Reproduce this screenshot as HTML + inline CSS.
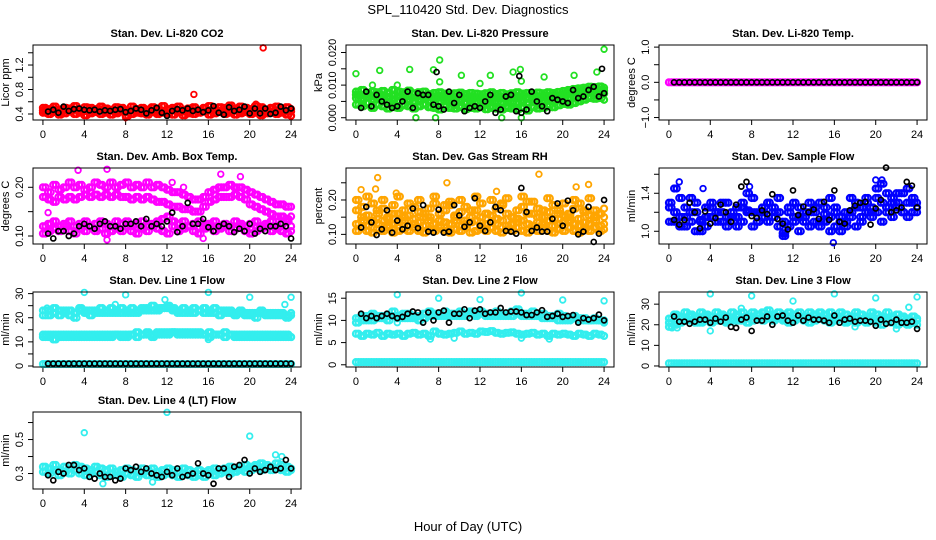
<!DOCTYPE html>
<html><head><meta charset="utf-8">
<style>
html,body{margin:0;padding:0;background:#fff;}
svg{display:block;font-family:"Liberation Sans",Arial,sans-serif;}
</style></head>
<body>
<svg id="chart" width="936" height="540" viewBox="0 0 936 540">
<text x="468" y="14" text-anchor="middle" font-size="13">SPL_110420  Std. Dev. Diagnostics</text>
<text x="468" y="531" text-anchor="middle" font-size="13">Hour of Day (UTC)</text>
</svg>
<script>
// ---------- data ----------
const hourTicks=[0,4,8,12,16,20,24];
// CO2
const co2RedA=[0.50,0.48,0.52,0.47,0.50,0.49,0.53,0.46,0.51,0.50,0.48,0.52,0.49,0.47,0.51,0.50,0.46,0.52,0.48,0.50,0.47,0.51,0.49,0.53,0.48,0.50,0.52,0.47,0.49,0.51,0.46,0.50,0.53,0.48,0.51,0.50,0.54,0.49,0.52,0.50,0.48,0.53,0.51,0.47,0.50,0.52,0.49,0.51,0.48];
const co2RedB=[0.42,0.40,0.43,0.39,0.41,0.44,0.40,0.42,0.38,0.41,0.43,0.40,0.42,0.39,0.41,0.44,0.37,0.40,0.42,0.41,0.39,0.43,0.40,0.42,0.41,0.39,0.43,0.38,0.41,0.40,0.42,0.44,0.39,0.41,0.43,0.40,0.42,0.39,0.41,0.43,0.40,0.42,0.38,0.41,0.43,0.40,0.42,0.39,0.37];
const co2RedC=[0.46,0.45,0.47,0.44,0.46,0.45,0.47,0.44,0.45,0.46,0.44,0.47,0.45,0.46,0.44,0.47,0.45,0.46,0.44,0.45,0.47,0.46,0.44,0.45,0.47,0.46,0.45,0.44,0.47,0.46,0.45,0.44,0.46,0.47,0.45,0.44,0.46,0.47,0.45,0.46,0.44,0.47,0.46,0.45,0.44,0.46,0.47,0.45,0.44];
const co2Black=[0.44,0.47,0.42,0.52,0.45,0.48,0.49,0.47,0.46,0.47,0.44,0.46,0.45,0.47,0.48,0.43,0.45,0.49,0.47,0.41,0.46,0.50,0.42,0.37,0.45,0.48,0.46,0.49,0.45,0.47,0.43,0.46,0.53,0.42,0.39,0.51,0.45,0.47,0.52,0.41,0.49,0.41,0.49,0.40,0.42,0.52,0.46,0.49];
const co2OutX=[14.6,21.3,8.0,20.6];
const co2OutY=[0.72,1.48,0.34,0.56];
// Pressure
const prGA=[0.008,0.0085,0.0075,0.008,0.0078,0.0082,0.0076,0.0085,0.008,0.0078,0.0083,0.0075,0.0078,0.008,0.0072,0.0076,0.0078,0.0074,0.0072,0.0075,0.0077,0.0073,0.0076,0.0074,0.0072,0.0075,0.0078,0.0073,0.0076,0.0072,0.0075,0.0078,0.0074,0.0076,0.0073,0.0077,0.0075,0.0078,0.0076,0.0079,0.0082,0.0085,0.0088,0.009,0.0092,0.0095,0.0094,0.0096,0.0092];
const prGB=[0.004,0.0035,0.0045,0.003,0.004,0.0035,0.0028,0.0032,0.003,0.0038,0.0035,0.0028,0.0035,0.004,0.0032,0.003,0.0025,0.0035,0.003,0.0028,0.0032,0.0026,0.003,0.0028,0.0032,0.0026,0.003,0.0028,0.0025,0.003,0.0028,0.0025,0.003,0.0022,0.0032,0.0028,0.003,0.0035,0.0032,0.0038,0.0042,0.004,0.0045,0.005,0.0055,0.006,0.0058,0.006,0.0055];
const prGC=[0.006,0.0058,0.0062,0.0055,0.006,0.0057,0.005,0.0055,0.0052,0.006,0.0055,0.005,0.0055,0.006,0.0052,0.0055,0.005,0.0054,0.0052,0.005,0.0055,0.0048,0.0052,0.005,0.0053,0.0048,0.0052,0.005,0.0048,0.0052,0.005,0.0048,0.0052,0.0046,0.0053,0.005,0.0052,0.0056,0.0054,0.0058,0.0062,0.0062,0.0066,0.007,0.0074,0.0078,0.0076,0.0078,0.0074];
const prGD=[0.007,0.0068,0.0072,0.0065,0.007,0.0066,0.0064,0.0068,0.0066,0.007,0.0066,0.0062,0.0066,0.0068,0.0062,0.0064,0.0062,0.0065,0.0062,0.0062,0.0066,0.006,0.0064,0.0062,0.0063,0.006,0.0064,0.0062,0.006,0.0063,0.0062,0.006,0.0064,0.0058,0.0064,0.0062,0.0064,0.0067,0.0065,0.0068,0.0072,0.0074,0.0077,0.008,0.0083,0.0086,0.0085,0.0087,0.0083];
const prBlack=[0.003,0.008,0.0035,0.007,0.005,0.004,0.003,0.0035,0.005,0.008,0.003,0.0075,0.007,0.007,0.004,0.0035,0.0025,0.008,0.0045,0.007,0.002,0.003,0.0035,0.003,0.005,0.007,0.0015,0.0025,0.0065,0.007,0.002,0.0015,0.0025,0.008,0.005,0.0035,0.002,0.006,0.0055,0.005,0.0045,0.0085,0.006,0.0065,0.0085,0.0095,0.0065,0.0075];
const prOutX=[0,1.6,2.3,4,5.2,7.5,8.1,8.1,10.2,12,13,15.2,15.9,16,18.2,21.1,23.3,24,5.8,7.7,14.1,16];
const prOutY=[0.0135,0.010,0.0145,0.010,0.0148,0.0147,0.0177,0.011,0.013,0.0105,0.013,0.014,0.0148,0.0112,0.0125,0.013,0.014,0.021,0.0,0.0,0.0,0.0];
const prBlkOutX=[7.8,15.8,23.8];
const prBlkOutY=[0.014,0.0128,0.015];
// Li-820 temp
const tmpMag=[0,0,0,0,0,0,0,0,0,0,0,0,0,0,0,0,0,0,0,0,0,0,0,0,0,0,0,0,0,0,0,0,0,0,0,0,0,0,0,0,0,0,0,0,0,0,0,0,0];
const tmpBlack=[0,0,0,0,0,0,0,0,0,0,0,0,0,0,0,0,0,0,0,0,0,0,0,0,0,0,0,0,0,0,0,0,0,0,0,0,0,0,0,0,0,0,0,0,0,0,0,0];
// Amb box temp
const ambA=[0.20,0.19,0.205,0.195,0.20,0.21,0.2,0.205,0.195,0.2,0.21,0.205,0.2,0.21,0.2,0.205,0.21,0.2,0.205,0.2,0.21,0.2,0.205,0.2,0.195,0.19,0.19,0.185,0.18,0.175,0.175,0.18,0.19,0.195,0.2,0.2,0.205,0.2,0.2,0.195,0.19,0.185,0.18,0.175,0.17,0.165,0.165,0.16,0.16];
const ambB=[0.18,0.175,0.17,0.18,0.175,0.18,0.175,0.18,0.185,0.18,0.185,0.18,0.185,0.18,0.185,0.18,0.18,0.175,0.18,0.175,0.18,0.175,0.17,0.17,0.165,0.16,0.16,0.155,0.155,0.15,0.15,0.16,0.17,0.175,0.18,0.18,0.18,0.185,0.18,0.175,0.165,0.16,0.155,0.15,0.145,0.14,0.14,0.135,0.14];
const ambC=[0.105,0.11,0.115,0.11,0.12,0.11,0.105,0.115,0.11,0.12,0.11,0.115,0.105,0.11,0.115,0.11,0.12,0.11,0.105,0.115,0.11,0.12,0.115,0.11,0.105,0.12,0.11,0.115,0.12,0.11,0.105,0.115,0.12,0.11,0.115,0.12,0.11,0.115,0.12,0.11,0.105,0.11,0.115,0.12,0.11,0.115,0.11,0.105,0.11];
const ambD=[0.12,0.125,0.13,0.12,0.125,0.13,0.12,0.125,0.13,0.12,0.125,0.13,0.125,0.12,0.13,0.125,0.13,0.12,0.125,0.13,0.12,0.125,0.13,0.135,0.14,0.13,0.125,0.13,0.12,0.125,0.13,0.12,0.125,0.13,0.12,0.125,0.12,0.13,0.125,0.12,0.125,0.13,0.12,0.125,0.13,0.12,0.125,0.13,0.12];
const ambBlack=[0.105,0.095,0.11,0.11,0.10,0.105,0.12,0.125,0.12,0.115,0.125,0.13,0.12,0.12,0.115,0.125,0.125,0.13,0.12,0.135,0.12,0.125,0.12,0.13,0.148,0.108,0.12,0.168,0.125,0.125,0.135,0.118,0.11,0.12,0.125,0.12,0.108,0.115,0.11,0.125,0.105,0.115,0.11,0.12,0.12,0.125,0.12,0.095];
const ambOutX=[3.4,6.2,17.2,19.1,0.5,6.2,15.5,12.5,13.6];
const ambOutY=[0.235,0.237,0.227,0.222,0.148,0.092,0.095,0.21,0.2];
// Gas stream RH
const rhA=[0.11,0.12,0.11,0.105,0.115,0.11,0.12,0.105,0.11,0.115,0.11,0.12,0.11,0.105,0.115,0.11,0.12,0.11,0.105,0.115,0.11,0.12,0.105,0.11,0.115,0.11,0.12,0.11,0.105,0.115,0.11,0.12,0.11,0.105,0.115,0.11,0.12,0.11,0.105,0.115,0.11,0.12,0.11,0.105,0.115,0.11,0.12,0.11,0.115];
const rhB=[0.13,0.14,0.125,0.135,0.13,0.14,0.125,0.13,0.135,0.14,0.125,0.13,0.135,0.125,0.14,0.13,0.125,0.135,0.13,0.14,0.125,0.13,0.135,0.14,0.125,0.13,0.135,0.13,0.14,0.125,0.13,0.135,0.14,0.13,0.125,0.135,0.13,0.14,0.125,0.13,0.135,0.14,0.13,0.125,0.135,0.13,0.14,0.125,0.13];
const rhC=[0.17,0.18,0.155,0.19,0.16,0.175,0.15,0.185,0.16,0.17,0.155,0.18,0.165,0.15,0.175,0.19,0.16,0.17,0.185,0.155,0.165,0.18,0.15,0.17,0.19,0.16,0.155,0.175,0.185,0.16,0.15,0.17,0.18,0.195,0.16,0.175,0.15,0.165,0.185,0.17,0.155,0.16,0.175,0.19,0.165,0.155,0.17,0.16,0.15];
const rhD=[0.2,0.15,0.21,0.14,0.17,0.2,0.145,0.16,0.21,0.15,0.19,0.145,0.2,0.16,0.15,0.21,0.14,0.185,0.195,0.15,0.2,0.14,0.17,0.21,0.15,0.16,0.2,0.145,0.19,0.205,0.15,0.145,0.21,0.16,0.195,0.15,0.17,0.205,0.145,0.16,0.19,0.15,0.2,0.145,0.17,0.205,0.15,0.16,0.175];
const rhBlack=[0.12,0.18,0.135,0.098,0.115,0.17,0.105,0.14,0.115,0.125,0.175,0.118,0.185,0.108,0.105,0.172,0.105,0.108,0.185,0.155,0.122,0.135,0.205,0.125,0.11,0.135,0.18,0.17,0.11,0.108,0.102,0.235,0.165,0.11,0.12,0.108,0.108,0.145,0.19,0.125,0.198,0.17,0.1,0.108,0.18,0.078,0.102,0.2];
const rhOutX=[2.1,8.8,17.7,22.5,0.5,13.6,1.9,3.9,21.3];
const rhOutY=[0.265,0.25,0.275,0.245,0.23,0.225,0.232,0.22,0.238];
// Sample flow
const sfA=[1.25,1.1,1.35,1.05,1.2,1.3,1.0,1.15,1.25,1.1,1.2,1.3,1.15,1.05,1.25,1.2,1.35,1.1,1.2,1.3,1.15,1.05,0.98,1.2,1.1,1.25,1.15,1.05,1.2,1.3,1.1,1.0,1.25,1.15,1.05,1.2,1.3,1.25,1.35,1.2,1.45,1.3,1.2,1.35,1.25,1.4,1.3,1.2,1.25];
const sfB=[1.1,1.2,1.05,1.15,1.1,1.0,1.12,1.05,1.15,1.2,1.1,1.05,1.2,1.15,1.1,1.22,1.05,1.2,1.15,1.1,1.25,1.2,1.1,1.05,1.15,1.0,1.1,1.2,1.1,1.05,1.18,1.15,1.05,1.1,1.2,1.15,1.05,1.1,1.2,1.15,1.2,1.1,1.25,1.15,1.3,1.2,1.15,1.3,1.2];
const sfC=[1.3,1.45,1.15,1.25,1.35,1.2,1.1,1.25,1.3,1.2,1.3,1.15,1.1,1.25,1.3,1.4,1.2,1.1,1.25,1.3,1.2,1.35,0.95,1.25,1.3,1.15,1.2,1.3,1.25,1.1,1.25,1.35,1.2,1.0,1.1,1.35,1.25,1.15,1.3,1.25,1.35,1.5,1.4,1.3,1.4,1.2,1.45,1.35,1.3];
const sfBlack=[1.12,1.07,1.12,1.3,1.2,1.03,1.21,1.08,1.14,1.28,1.2,1.1,1.28,1.47,1.52,1.16,1.14,1.22,1.18,1.39,1.13,1.08,1.02,1.43,1.17,1.26,1.2,1.23,1.13,1.31,1.12,1.43,1.1,1.08,1.22,1.27,1.3,1.31,1.07,1.24,1.33,1.67,1.2,1.22,1.25,1.52,1.48,1.25];
const sfOutX=[1.0,15.9,20.0,20.6,3.3,7.8];
const sfOutY=[1.52,0.88,1.54,1.54,1.45,1.47];
// Line 1 flow
const l1A=[21,23,22,23,22,21,22,23,22,21,23,22,23,22,23,22,23,22,23,23,24,23,24,24,24,23,23,22,23,22,23,22,23,22,23,22,22,21,22,22,21,20,22,21,22,21,21,21,21];
const l1B=[23,21,24,21,23,23,20,24,23,23,22,24,22,24,22,24,22,24,22,24,23,25,23,24,25,24,22,24,22,24,23,24,22,24,21,23,23,22,23,21,22,22,23,22,21,22,22,20,22];
const l1C=[13,12,13,12,13,13,12,13,12,13,13,12,13,13,13,12,13,13,14,13,13,13,13,13,14,14,14,13,13,14,13,13,14,13,13,14,13,13,13,12,13,13,12,13,12,12,13,12,12];
const l1D=[12,13,11,13,12,12,13,12,13,12,12,13,12,12,13,13,12,13,12,13,14,12,14,14,13,14,13,14,14,13,14,13,12,13,13,12,13,12,12,13,12,12,13,12,13,13,12,13,12];
const l1E=[0.8,0.8,0.8,0.8,0.8,0.8,0.8,0.8,0.8,0.8,0.8,0.8,0.8,0.8,0.8,0.8,0.8,0.8,0.8,0.8,0.8,0.8,0.8,0.8,0.8,0.8,0.8,0.8,0.8,0.8,0.8,0.8,0.8,0.8,0.8,0.8,0.8,0.8,0.8,0.8,0.8,0.8,0.8,0.8,0.8,0.8,0.8,0.8,0.8];
const l1Black=[1,1,1,1,1,1,1,1,1,1,1,1,1,1,1,1,1,1,1,1,1,1,1,1,1,1,1,1,1,1,1,1,1,1,1,1,1,1,1,1,1,1,1,1,1,1,1,1];
const l1OutX=[4,8,16,20,24,11.8,7,23.4,0.4,16];
const l1OutY=[30.5,29.5,30.5,28.5,28.5,27.5,25.5,25.5,24,11];
// Line 2 flow
const l2A=[9.5,11,10,11.5,10.5,11,10,12,11,10.5,11.5,11,10,11.5,12,11,11.5,12,11,11.5,12,11.5,12,11.5,12,11,11.5,12,11,11.5,12,12.5,11,11.5,12,11,11.5,10.5,11,11.5,10,10.5,11,10,10.5,10,10.5,10,9.5];
const l2B=[10.5,10,11,10,11,10.5,11,11,10.5,11.5,10.5,10.5,11,10.5,11,11.5,11,11,11.5,11,11,11,11.5,11,11.5,11.5,11,11,11.5,11,11,11.5,11.5,11,11,11.5,10.5,11,10.5,10,11,10,10.5,10.5,10,10,10,10,10];
const l2C=[7,6.5,7,6.8,7.2,6.5,7,6.8,7,6.5,7,7.2,6.8,7,6.5,7.5,7,6.8,7,7.2,7.5,7,7.2,7,7.5,7.4,7.6,7.2,7,7.2,7.3,7,6.8,7,7.2,6.8,7,6.5,7,6.8,7,6.8,6.5,7,6.8,6.5,7,6.8,6.5];
const l2D=[0.6,0.6,0.6,0.6,0.6,0.6,0.6,0.6,0.6,0.6,0.6,0.6,0.6,0.6,0.6,0.6,0.6,0.6,0.6,0.6,0.6,0.6,0.6,0.6,0.6,0.6,0.6,0.6,0.6,0.6,0.6,0.6,0.6,0.6,0.6,0.6,0.6,0.6,0.6,0.6,0.6,0.6,0.6,0.6,0.6,0.6,0.6,0.6,0.6];
const l2Black=[11.5,10.5,11,10.5,11,11.5,11,10.5,10.8,11.5,12,11.8,9.5,11.8,10,11.8,12.2,9.5,11.5,11.5,12.5,10.5,12.2,12.5,11.5,11.8,11.8,12.8,11.8,12,12,11.8,11.2,11.2,11.8,12.3,10.8,11,11.5,10.8,11,11.2,9.5,10.5,10.2,10.5,11.3,10];
const l2OutX=[4,8,12,16,20,24,4,9.5,16,7.2,18.7];
const l2OutY=[15.8,15,14.7,16.2,14.6,14.4,9.5,6,6,5.8,5.8];
// Line 3 flow
const l3A=[23,25,24,26,25,24,26,25,24,26,25,24,26,25,26,24,26,25,26,27,25,26,25,26,25,26,24,26,25,26,25,26,24,26,25,24,26,25,24,26,25,24,26,24,25,24,23,24,23];
const l3B=[21,22,21,23,22,21,22,23,21,22,23,21,22,22,23,21,22,23,22,23,22,23,22,21,22,23,22,21,22,23,22,21,22,23,21,22,21,22,21,22,21,20,22,21,20,21,20,21,20];
const l3C=[19,20,23,22,24,23,21,24,22,23,24,22,23,24,22,23,24,23,24,25,23,24,23,24,23,24,23,24,23,24,23,22,23,24,22,23,24,22,23,24,22,23,22,23,22,23,22,21,22];
const l3D=[1.3,1.3,1.3,1.3,1.3,1.3,1.3,1.3,1.3,1.3,1.3,1.3,1.3,1.3,1.3,1.3,1.3,1.3,1.3,1.3,1.3,1.3,1.3,1.3,1.3,1.3,1.3,1.3,1.3,1.3,1.3,1.3,1.3,1.3,1.3,1.3,1.3,1.3,1.3,1.3,1.3,1.3,1.3,1.3,1.3,1.3,1.3,1.3,1.3];
const l3Black=[24,21.5,21.5,20.5,21.5,22.5,22.5,21,23,21.5,23.5,19,18.5,22.5,23.5,17,22,22,24,20,24,24.5,22,21,24.5,22,23.5,22.5,22.5,22,21,24.5,21,22.5,23,21.5,22,22,21.5,19.5,22.5,20.5,21,22.5,21,21,21.5,18];
const l3OutX=[4,8,12,16,20,24,4,0.3,0.8,7,18,22,23.2];
const l3OutY=[35,34,31.5,35,33,33.5,17,18.5,18.5,28,19,18,28.5];
// Line 4 flow
const l4A=[0.34,0.33,0.35,0.32,0.34,0.33,0.35,0.34,0.33,0.32,0.34,0.33,0.32,0.33,0.31,0.32,0.33,0.32,0.31,0.33,0.32,0.33,0.31,0.32,0.33,0.32,0.31,0.33,0.32,0.31,0.32,0.31,0.32,0.33,0.32,0.33,0.34,0.33,0.34,0.35,0.34,0.35,0.36,0.35,0.34,0.36,0.35,0.34,0.33];
const l4B=[0.31,0.3,0.32,0.29,0.31,0.3,0.32,0.3,0.29,0.3,0.31,0.29,0.28,0.3,0.29,0.28,0.3,0.29,0.28,0.3,0.29,0.3,0.28,0.29,0.3,0.29,0.28,0.3,0.29,0.28,0.29,0.28,0.3,0.29,0.3,0.31,0.3,0.31,0.32,0.31,0.32,0.33,0.32,0.33,0.32,0.33,0.32,0.31,0.32];
const l4Black=[0.29,0.26,0.31,0.3,0.35,0.35,0.32,0.33,0.28,0.27,0.3,0.28,0.28,0.26,0.27,0.33,0.32,0.34,0.31,0.33,0.3,0.29,0.28,0.31,0.29,0.33,0.28,0.29,0.3,0.36,0.3,0.29,0.24,0.33,0.33,0.28,0.34,0.35,0.38,0.3,0.33,0.31,0.32,0.34,0.32,0.33,0.38,0.33];
const l4OutX=[4,12,20,22.5,23.1,5.8,10.6];
const l4OutY=[0.54,0.66,0.52,0.41,0.4,0.24,0.25];

// ---------- layout ----------
const colLeft=[33,346,659];
const rowTop=[45,168,292,412];
const rowH=[75,76,75,77];
const PW=268;
const RED='#ff0000',GRN='#22e022',MAG='#ff00ff',ORG='#ffa500',BLU='#0000ff',CYN='#33eeee',BLK='#000000';

const panels=[
 {r:0,c:0,name:'co2',title:'Stan. Dev. Li-820 CO2',ylab:'Licor ppm',ylim:[0.302,1.527],ticks:[0.4,0.6,0.8,1.0,1.2,1.4],labels:['0.4','','0.8','','1.2',''],
  series:[{v:co2RedA,c:RED},{v:co2RedB,c:RED},{v:co2RedC,c:RED}],outs:[{x:co2OutX,y:co2OutY,c:RED}],black:co2Black},
 {r:0,c:1,name:'pressure',title:'Stan. Dev. Li-820 Pressure',ylab:'kPa',ylim:[-0.0007,0.0223],ticks:[0,0.005,0.01,0.015,0.02],labels:['0.000','','0.010','','0.020'],
  series:[{v:prGA,c:GRN},{v:prGB,c:GRN},{v:prGC,c:GRN},{v:prGD,c:GRN}],outs:[{x:prOutX,y:prOutY,c:GRN}],black:prBlack,blackOuts:[{x:prBlkOutX,y:prBlkOutY}]},
 {r:0,c:2,name:'li820-temp',title:'Stan. Dev. Li-820 Temp.',ylab:'degrees C',ylim:[-1.07,1.06],ticks:[-1,-0.5,0,0.5,1],labels:['\u22121.0','','0.0','','1.0'],
  series:[{v:tmpMag,c:MAG}],outs:[],black:tmpBlack},
 {r:1,c:0,name:'amb-box-temp',title:'Stan. Dev. Amb. Box Temp.',ylab:'degrees C',ylim:[0.0836,0.2396],ticks:[0.1,0.15,0.2],labels:['0.10','','0.20'],
  series:[{v:ambA,c:MAG},{v:ambB,c:MAG},{v:ambC,c:MAG},{v:ambD,c:MAG}],outs:[{x:ambOutX,y:ambOutY,c:MAG}],black:ambBlack},
 {r:1,c:1,name:'gas-stream-rh',title:'Stan. Dev. Gas Stream RH',ylab:'percent',ylim:[0.072,0.293],ticks:[0.1,0.15,0.2,0.25],labels:['0.10','','0.20',''],
  series:[{v:rhA,c:ORG},{v:rhB,c:ORG},{v:rhC,c:ORG},{v:rhD,c:ORG}],outs:[{x:rhOutX,y:rhOutY,c:ORG}],black:rhBlack},
 {r:1,c:2,name:'sample-flow',title:'Stan. Dev. Sample Flow',ylab:'ml/min',ylim:[0.866,1.666],ticks:[1.0,1.2,1.4,1.6],labels:['1.0','','1.4',''],
  series:[{v:sfA,c:BLU},{v:sfB,c:BLU},{v:sfC,c:BLU}],outs:[{x:sfOutX,y:sfOutY,c:BLU}],black:sfBlack},
 {r:2,c:0,name:'line1-flow',title:'Stan. Dev. Line 1 Flow',ylab:'ml/min',ylim:[-0.42,30.67],ticks:[0,5,10,15,20,25,30],labels:['0','','10','','20','','30'],
  series:[{v:l1A,c:CYN},{v:l1B,c:CYN},{v:l1C,c:CYN},{v:l1D,c:CYN},{v:l1E,c:CYN}],outs:[{x:l1OutX,y:l1OutY,c:CYN}],black:l1Black},
 {r:2,c:1,name:'line2-flow',title:'Stan. Dev. Line 2 Flow',ylab:'ml/min',ylim:[-0.5,16.4],ticks:[0,5,10,15],labels:['0','5','10','15'],
  series:[{v:l2A,c:CYN},{v:l2B,c:CYN},{v:l2C,c:CYN},{v:l2D,c:CYN}],outs:[{x:l2OutX,y:l2OutY,c:CYN}],black:l2Black},
 {r:2,c:2,name:'line3-flow',title:'Stan. Dev. Line 3 Flow',ylab:'ml/min',ylim:[-0.5,35.9],ticks:[0,10,20,30],labels:['0','10','20','30'],
  series:[{v:l3A,c:CYN},{v:l3B,c:CYN},{v:l3C,c:CYN},{v:l3D,c:CYN}],outs:[{x:l3OutX,y:l3OutY,c:CYN}],black:l3Black},
 {r:3,c:0,name:'line4-flow',title:'Stan. Dev. Line 4 (LT) Flow',ylab:'ml/min',ylim:[0.209,0.662],ticks:[0.3,0.4,0.5,0.6],labels:['0.3','','0.5',''],
  series:[{v:l4A,c:CYN},{v:l4B,c:CYN}],outs:[{x:l4OutX,y:l4OutY,c:CYN}],black:l4Black}
];

const NS='http://www.w3.org/2000/svg';
const svg=document.getElementById('chart');
function mk(tag,attrs,parent){const e=document.createElementNS(NS,tag);for(const k in attrs)e.setAttribute(k,attrs[k]);parent.appendChild(e);return e;}

panels.forEach(p=>{
 const L=colLeft[p.c],T=rowTop[p.r],H=rowH[p.r],B=T+H,R=L+PW;
 const xs=h=>L+PW*(h+0.96)/25.92;
 const ys=v=>B-H*(v-p.ylim[0])/(p.ylim[1]-p.ylim[0]);
 const g=mk('g',{},svg);
 
 
 const t=mk('text',{x:(L+R)/2,y:T-8,'text-anchor':'middle','font-size':'11','font-weight':'bold'},g);
 t.textContent=p.title;
 
 
 const xa=mk('g',{stroke:'#000','stroke-width':'1'},g);
 
 
 mk('line',{x1:xs(hourTicks[0]),x2:xs(hourTicks[hourTicks.length-1]),y1:B,y2:B},xa);
 hourTicks.forEach(h=>{
  mk('line',{x1:xs(h),x2:xs(h),y1:B,y2:B+5},xa);
  const lt=mk('text',{x:xs(h),y:B+18,'text-anchor':'middle','font-size':'11',stroke:'none',fill:'#000'},xa);
  lt.textContent=h;
  
  
 });
 const ya=mk('g',{stroke:'#000','stroke-width':'1'},g);
 
 
 p.ticks.forEach((v,i)=>{
  mk('line',{x1:L-5,x2:L,y1:ys(v),y2:ys(v)},ya);
  if(p.labels[i]){
   const yt=mk('text',{x:L-10,y:ys(v),'text-anchor':'middle','font-size':'11',stroke:'none',fill:'#000',transform:`rotate(-90 ${L-10} ${ys(v)})`},ya);
   yt.textContent=p.labels[i];
   
   
  }
 });
 const yl=mk('text',{x:L-24,y:(T+B)/2,'text-anchor':'middle','font-size':'11',transform:`rotate(-90 ${L-24} ${(T+B)/2})`},g);
 yl.textContent=p.ylab;
 
 
 const pts=mk('g',{fill:'none'},g);
 
 
 p.series.forEach(s=>{
  s.v.forEach((v,i)=>{
   const hx=24*i/(s.v.length-1);
   const c=mk('circle',{cx:xs(hx),cy:ys(v),r:3,stroke:s.c,'stroke-width':2.2},pts);
   
   
   if(i<s.v.length-1){
    const c2=mk('circle',{cx:xs(hx+0.25),cy:ys(v),r:3,stroke:s.c,'stroke-width':2.2},pts);
    
    
   }
  });
 });
 p.outs.forEach(o=>{
  o.x.forEach((x,i)=>{
   const c=mk('circle',{cx:xs(x),cy:ys(o.y[i]),r:2.8,stroke:o.c,'stroke-width':1.8},pts);
   
   
  });
 });
 p.black.forEach((v,i)=>{
  const c=mk('circle',{cx:xs(0.5+23.5*i/(p.black.length-1)),cy:ys(v),r:2.5,stroke:BLK,'stroke-width':1.7},pts);
  
  
 });
 (p.blackOuts||[]).forEach(o=>{
  o.x.forEach((x,i)=>{
   const c=mk('circle',{cx:xs(x),cy:ys(o.y[i]),r:2.5,stroke:BLK,'stroke-width':1.7},pts);
   
   
  });
 });
 const box=mk('rect',{x:L,y:T,width:PW,height:H,fill:'none',stroke:'#000','stroke-width':'1'},g);
 
 
});
</script>
</body></html>
